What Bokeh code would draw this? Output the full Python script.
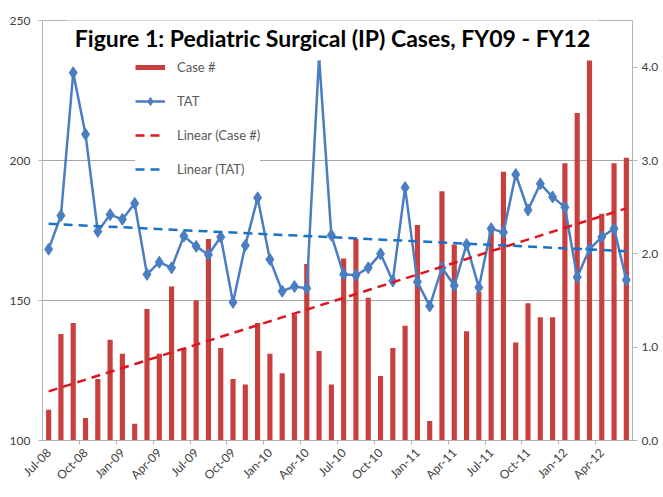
import numpy as np
from bokeh.plotting import figure
from bokeh.models import (Range1d, LinearAxis, FixedTicker, Legend, LegendItem,
                          Label, NumeralTickFormatter)
from bokeh.embed import file_html
from bokeh.resources import INLINE

months = ["Jul-08", "Aug-08", "Sep-08", "Oct-08", "Nov-08", "Dec-08",
          "Jan-09", "Feb-09", "Mar-09", "Apr-09", "May-09", "Jun-09",
          "Jul-09", "Aug-09", "Sep-09", "Oct-09", "Nov-09", "Dec-09",
          "Jan-10", "Feb-10", "Mar-10", "Apr-10", "May-10", "Jun-10",
          "Jul-10", "Aug-10", "Sep-10", "Oct-10", "Nov-10", "Dec-10",
          "Jan-11", "Feb-11", "Mar-11", "Apr-11", "May-11", "Jun-11",
          "Jul-11", "Aug-11", "Sep-11", "Oct-11", "Nov-11", "Dec-11",
          "Jan-12", "Feb-12", "Mar-12", "Apr-12", "May-12", "Jun-12"]

cases = [111, 138, 142, 108, 122, 136, 131, 106, 147, 131, 155, 133,
         150, 172, 133, 122, 120, 142, 131, 124, 145, 163, 132, 120,
         165, 172, 151, 123, 133, 141, 177, 107, 189, 170, 139, 153,
         176, 196, 135, 149, 144, 144, 199, 217, 236, 181, 199, 201]

tat = [2.05, 2.41, 3.94, 3.28, 2.24, 2.42, 2.37, 2.54, 1.78, 1.91, 1.85, 2.19,
       2.08, 1.99, 2.18, 1.48, 2.09, 2.60, 1.94, 1.60, 1.65, 1.63, 4.11, 2.20,
       1.78, 1.77, 1.85, 2.00, 1.71, 2.71, 1.70, 1.44, 1.85, 1.66, 2.10, 1.64,
       2.27, 2.23, 2.85, 2.47, 2.75, 2.61, 2.50, 1.75, 2.05, 2.18, 2.27, 1.72]

left_ticks = [100, 150, 200, 250]
right_ticks = [0, 1, 2, 3, 4]
title_text = "Figure 1: Pediatric Surgical (IP) Cases, FY09 - FY12"

FONT = "Lato"
TXT = "#404040"
AXC = "#b3b3b3"

x = np.arange(len(months))

p = figure(frame_width=590, frame_height=420,
           min_border_left=42, min_border_right=29, min_border_top=20, min_border_bottom=50,
           x_range=Range1d(-0.5, len(months) - 0.5), y_range=Range1d(100, 250),
           output_backend="svg", toolbar_location=None)
p.extra_y_ranges = {"tat": Range1d(0, 4.5)}
p.background_fill_color = "white"
p.border_fill_color = "white"
p.outline_line_color = AXC

bars = p.vbar(x=x, top=cases, bottom=100, width=0.42, fill_color="#C8403E", line_color=None)

tat_line = p.line(x, tat, y_range_name="tat", line_color="#4A7DC2", line_width=2.5)
tat_pts = p.scatter(x, tat, y_range_name="tat", marker="diamond", size=12,
                    fill_color="#4A7DC2", line_color="#4A7DC2")

cs, ci = np.polyfit(x, cases, 1)
ts, ti = np.polyfit(x, tat, 1)
xe = np.array([x[0], x[-1]])
trend_c = p.line(xe, ci + cs * xe, line_color="#DD1520", line_width=2.5, line_dash="9 6")
trend_t = p.line(xe, ti + ts * xe, y_range_name="tat", line_color="#1C72C4",
                 line_width=2.5, line_dash="9 6")

# legend proxy for the bars: a thick red line with no visible points
case_swatch = p.line(x=[x[0]], y=[np.nan], line_color="#C8403E", line_width=5)

# axes
p.xgrid.visible = False
p.ygrid.ticker = FixedTicker(ticks=[150, 200])
p.ygrid.grid_line_color = "#a6a6a6"

ya = p.yaxis[0]
ya.ticker = FixedTicker(ticks=left_ticks)
ya.axis_line_color = AXC
ya.major_tick_line_color = AXC
ya.major_tick_out = 4
ya.major_tick_in = 0
ya.minor_tick_line_color = None
ya.major_label_text_font = FONT
ya.major_label_text_font_size = "12px"
ya.major_label_text_color = TXT
ya.major_label_standoff = 8

ra = LinearAxis(y_range_name="tat", ticker=FixedTicker(ticks=right_ticks),
                formatter=NumeralTickFormatter(format="0.0"))
ra.axis_line_color = AXC
ra.major_tick_line_color = AXC
ra.major_tick_out = 5
ra.major_tick_in = 0
ra.minor_tick_line_color = None
ra.major_label_text_font = FONT
ra.major_label_text_font_size = "12px"
ra.major_label_text_color = TXT
ra.major_label_standoff = 4
p.add_layout(ra, "right")

xa = p.xaxis[0]
label_idx = list(range(0, len(months), 3))
xa.ticker = FixedTicker(ticks=label_idx, minor_ticks=[i - 0.5 for i in label_idx[1:]])
xa.major_label_overrides = {i: months[i] for i in label_idx}
xa.major_label_orientation = np.pi / 4
xa.axis_line_color = AXC
xa.major_tick_line_color = None
xa.minor_tick_line_color = AXC
xa.minor_tick_out = 4
xa.minor_tick_in = 0
xa.major_label_text_font = FONT
xa.major_label_text_font_size = "12px"
xa.major_label_text_color = TXT
xa.major_label_standoff = 4

# legend
legend = Legend(items=[
    LegendItem(label="Case #", renderers=[case_swatch]),
    LegendItem(label="TAT", renderers=[tat_line, tat_pts]),
    LegendItem(label="Linear (Case #)", renderers=[trend_c]),
    LegendItem(label="Linear (TAT)", renderers=[trend_t]),
], location=(93, 261))
legend.glyph_width = 30
legend.glyph_height = 20
legend.label_height = 20
legend.spacing = 14
legend.padding = 10
legend.margin = 0
legend.label_standoff = 12
legend.label_text_font = FONT
legend.label_text_font_size = "13px"
legend.label_text_color = "#595959"
legend.border_line_color = None
legend.background_fill_color = "white"
legend.background_fill_alpha = 1.0
p.add_layout(legend, "center")

title = Label(x=23.1, y=243.6, text=title_text, text_align="center", text_baseline="middle",
              text_font=FONT, text_font_style="bold", text_font_size="23px",
              text_color="black", background_fill_color="white", padding=8)
p.add_layout(title)

open("out.html", "w").write(file_html(p, INLINE))
